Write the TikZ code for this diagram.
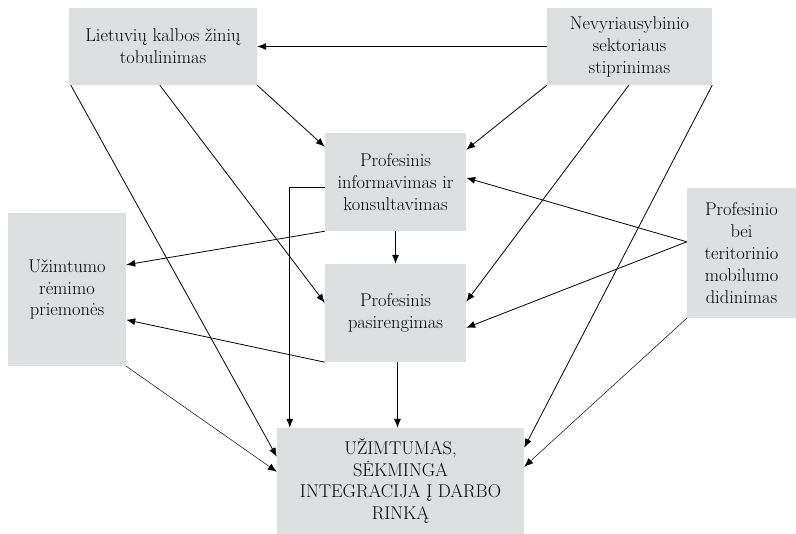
\documentclass[tikz,border=0pt]{standalone}
\usepackage{fontspec}
\usetikzlibrary{positioning}
\usetikzlibrary{arrows.meta}

\definecolor{boxgray}{RGB}{221,222,223}

\tikzset{
  box/.style 2 args={fill=boxgray, align=center, inner sep=0pt,
    minimum width=#1, minimum height=#2,
    font=\fontsize{18.5}{22}\selectfont},
  arr/.style={-{Latex[length=9bp,width=7bp]}, line width=0.8bp},
  thinarr/.style={arr, line width=0.5bp}
}

\begin{document}
\begin{tikzpicture}[x=1bp,y=-1bp]
    \useasboundingbox (0,0) rectangle (796,534);

    % Define the boxes
    \node[box={188bp}{77bp}] (liet) at (163,46.5) {Lietuvių kalbos žinių\\tobulinimas};
    \node[box={165bp}{77bp}] (nevy) at (629.5,46.5) {Nevyriausybinio\\sektoriaus\\stiprinimas};
    \node[box={141bp}{98bp}] (info) at (395.5,182) {Profesinis\\informavimas ir\\konsultavimas};
    \node[box={118bp}{153bp}] (uzim) at (67,289.5) {Užimtumo\\rėmimo\\priemonės};
    \node[box={141bp}{98bp}] (pasi) at (395.5,313) {Profesinis\\pasirengimas};
    \node[box={109bp}{130bp}] (mobil) at (741.5,253) {Profesinio\\bei\\teritorinio\\mobilumo\\didinimas};
    \node[box={247bp}{106bp}] (result) at (400.5,481) {UŽIMTUMAS,\\SĖKMINGA\\INTEGRACIJA Į DARBO\\RINKĄ};

    % Draw the arrows
    \draw[arr] (nevy.west) -- (liet.east);
    \draw[arr] (liet.south east) -- ([yshift=-14bp]info.north west);
    \draw[arr] ([xshift=2bp]liet.south west) -- ([yshift=-29bp]result.north west);
    \draw[arr] ([xshift=91bp]liet.south west) -- ([yshift=-39bp]pasi.north west);

    \draw[arr] (nevy.south west) -- ([yshift=-17bp]info.north east);
    \draw[arr] ([xshift=82bp]nevy.south west) -- ([yshift=-38bp]pasi.north east);
    \draw[arr] (nevy.south east) -- ([yshift=-20bp]result.north east);

    \foreach \target/\shift in {info/-45bp, pasi/-64bp}
        \draw[arr] ([yshift=-54bp]mobil.north west) -- ([yshift=\shift]\target.north east);
    \draw[thinarr] (mobil.south west) -- ([yshift=-39bp]result.north east);

    \draw[arr] (info.south west) -- ([yshift=-52bp]uzim.north east);
    \draw[arr] (info.south) -- (pasi.north);
    \draw[arr] ([yshift=-55bp]info.north west) -| ([xshift=13bp]result.north west);

    \draw[arr] (pasi.south west) -- ([yshift=-107bp]uzim.north east);
    \draw[arr] ([xshift=2bp]pasi.south) -- ([xshift=2bp]pasi.south |- result.north);

    \draw[thinarr] (uzim.south east) -- ([yshift=-44bp]result.north west);
\end{tikzpicture}
\end{document}
